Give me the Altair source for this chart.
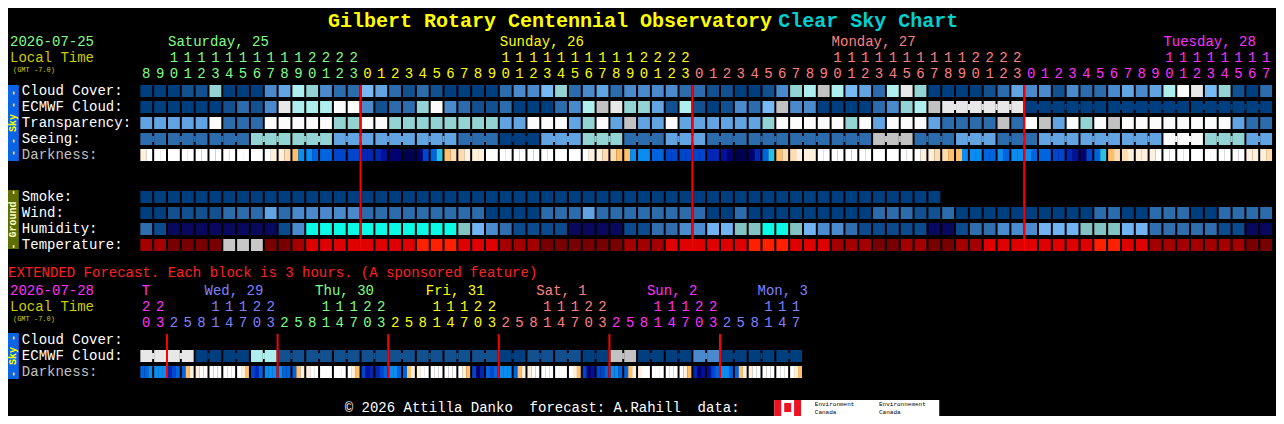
import altair as alt
import pandas as pd

# ------------------------------------------------------------------ texts
TITLE_MAIN = "Gilbert Rotary Centennial Observatory"
TITLE_SUB = "Clear Sky Chart"
DATE_MAIN = "2026-07-25"
DATE_EXT = "2026-07-28"
LOCAL = "Local Time"
GMT = "(GMT -7.0)"
EXT_NOTE = "EXTENDED Forecast. Each block is 3 hours. (A sponsored feature)"
FOOTER = "\u00a9 2026 Attilla Danko\u00a0\u00a0forecast: A.Rahill\u00a0\u00a0data:"

day_names = ["Saturday, 25", "Sunday, 26", "Monday, 27", "Tuesday, 28"]
day_colors = ["green", "yellow", "salmon", "magenta"]
day_hours = [list(range(8, 24)), list(range(24)), list(range(24)), list(range(18))]

ext_day_names = ["T", "Wed, 29", "Thu, 30", "Fri, 31", "Sat, 1", "Sun, 2", "Mon, 3"]
ext_day_colors = ["magenta", "violet", "green", "yellow", "salmon", "magenta", "violet"]
ext_day_hours = [
    [20, 23],
    [2, 5, 8, 11, 14, 17, 20, 23],
    [2, 5, 8, 11, 14, 17, 20, 23],
    [2, 5, 8, 11, 14, 17, 20, 23],
    [2, 5, 8, 11, 14, 17, 20, 23],
    [2, 5, 8, 11, 14, 17, 20, 23],
    [2, 5, 8, 11, 14, 17],
]

sky_labels = ["Cloud Cover:", "ECMWF Cloud:", "Transparency:", "Seeing:", "Darkness:"]
ground_labels = ["Smoke:", "Wind:", "Humidity:", "Temperature:"]
ext_labels = ["Cloud Cover:", "ECMWF Cloud:", "Darkness:"]

# ------------------------------------------------------------------ hourly levels (82 hours)
cloud_cover = [0, 0, 0, 1, 1, 6, 0, 0, 0, 3, 4, 7, 6, 3, 2, 2,
               5, 4, 2, 1, 2, 1, 0, 0, 0, 0, 2, 3, 3, 5, 6, 2, 3, 4, 2, 3, 3, 3, 3, 2,
               2, 1, 1, 0, 0, 1, 3, 6, 7, 8, 7, 5, 4, 2, 7, 9, 6, 0, 0, 0, 0, 1, 2, 4,
               3, 3, 1, 3, 2, 2, 3, 4, 3, 4, 7, 10, 9, 5, 6, 1, 0, 2]
ecmwf_cloud = [0, 0, 0, 0, 0, 0, 1, 2, 1, 3, 9, 7, 7, 7, 10, 10,
               3, 1, 2, 2, 6, 10, 3, 2, 1, 1, 2, 0, 0, 0, 2, 3, 7, 8, 9, 6, 6, 4, 1, 7,
               1, 0, 1, 3, 2, 5, 8, 3, 3, 0, 0, 0, 0, 2, 3, 6, 7, 8, 9, 9, 9, 9, 9, 9,
               0, 0, 0, 0, 0, 0, 0, 0, 0, 0, 0, 0, 0, 0, 0, 0, 0, 0]
transparency = [4, 4, 4, 4, 4, 10, 2, 2, 2, 10, 10, 10, 10, 10, 6, 6,
                10, 10, 6, 6, 6, 6, 6, 6, 6, 6, 4, 4, 10, 10, 10, 4, 6, 10, 4, 8, 4, 4, 10, 4,
                4, 4, 4, 4, 4, 6, 10, 10, 10, 10, 10, 6, 10, 4, 10, 10, 10, 4, 2, 2, 2, 2, 8, 2,
                10, 8, 4, 10, 6, 10, 8, 10, 10, 10, 10, 10, 10, 10, 10, 4, 2, 2]
seeing = [2, 2, 2, 2, 2, 2, 2, 2, 6, 6, 6, 6, 6, 6, 4, 4,
          4, 4, 4, 4, 4, 4, 4, 2, 2, 2, 0, 0, 0, 4, 4, 4, 6, 6, 6, 2, 2, 2, 4, 4,
          4, 2, 2, 2, 2, 2, 2, 2, 2, 2, 2, 2, 2, 8, 8, 8, 2, 2, 2, 4, 4, 4, 2, 2,
          2, 4, 4, 4, 4, 4, 4, 4, 4, 4, 10, 10, 10, 6, 6, 6, 4, 4]
# darkness: (first half-hour, second half-hour) level per hour
darkness = [(1, 0), (0, 0), (0, 0), (0, 0), (0, 0), (0, 0), (0, 0), (0, 0), (0, 0), (0, 1),
            (1, 2), (3, 5), (5, 6), (6, 6), (7, 7), (7, 7),
            (8, 8), (8, 9), (10, 10), (11, 11), (10, 7), (6, 4), (3, 2), (2, 1), (1, 1), (0, 0),
            (0, 0), (0, 0), (0, 0), (0, 0), (0, 0), (0, 0), (0, 1), (1, 2), (2, 3), (3, 5),
            (5, 5), (6, 6), (7, 7), (7, 7),
            (7, 7), (8, 8), (9, 10), (11, 11), (10, 8), (6, 4), (3, 2), (2, 1), (1, 1), (0, 0),
            (0, 0), (0, 0), (0, 0), (0, 0), (0, 0), (0, 0), (0, 1), (1, 2), (2, 3), (3, 5),
            (5, 5), (6, 6), (5, 6), (5, 5),
            (5, 6), (6, 6), (7, 7), (8, 9), (10, 7), (6, 4), (3, 2), (2, 1), (1, 1), (1, 0),
            (0, 0), (0, 0), (0, 0), (0, 0), (0, 0), (0, 0), (1, 1), (1, 2)]
smoke = [0] * 58
wind = [0, 0, 1, 1, 1, 1, 2, 2, 2, 4, 2, 3, 3, 3, 3, 3,
        2, 2, 2, 2, 2, 2, 2, 2, 2, 0, 0, 0, 0, 2, 2, 2, 4, 2, 2, 2, 2, 2, 2, 2,
        2, 0, 0, 2, 0, 0, 0, 0, 0, 0, 0, 0, 0, 2, 2, 2, 1, 1, 2, 0, 0, 0, 0, 0,
        0, 0, 0, 0, 0, 2, 2, 0, 0, 2, 2, 2, 0, 0, 2, 2, 2, 2]
humidity = [2, 1, 0, 0, 0, 0, 0, 0, 0, 0, 1, 3, 6, 6, 6, 6,
            6, 6, 6, 6, 6, 6, 6, 5, 4, 3, 2, 1, 1, 1, 1, 0, 0, 0, 0, 1, 1, 2, 2, 3,
            3, 4, 4, 5, 5, 6, 6, 5, 4, 3, 3, 2, 1, 1, 1, 1, 1, 0, 0, 1, 2, 2, 3, 3,
            3, 4, 4, 4, 5, 5, 5, 4, 4, 2, 2, 2, 2, 2, 1, 1, 0, 0]
temperature = [2, 2, 1, 1, 1, 1, 0, 0, 0, 1, 1, 2, 3, 3, 3, 3,
               3, 3, 3, 3, 4, 4, 4, 3, 3, 3, 2, 2, 2, 1, 1, 1, 1, 1, 1, 2, 2, 2, 3, 3,
               3, 3, 3, 3, 4, 4, 4, 3, 3, 3, 2, 2, 2, 1, 1, 2, 2, 1, 1, 2, 2, 3, 3, 3,
               3, 3, 3, 3, 3, 4, 4, 3, 3, 2, 2, 2, 2, 2, 2, 2, 1, 1]

# ------------------------------------------------------------------ extended (48 blocks of 3 h)
ext_ecmwf = [9, 9, 9, 9, 0, 0, 0, 0, 7, 7, 1, 1, 1, 1, 1, 1,
             1, 1, 1, 1, 1, 1, 1, 1, 1, 1, 0, 0, 1, 1, 1, 1,
             0, 0, 8, 8, 0, 0, 0, 0, 3, 3, 0, 0, 0, 0, 0, 0]
ext_darkness = [(6, 6, 5), (5, 5, 5), (8, 7, 6), (6, 3, 1), (1, 0, 0), (0, 0, 0), (0, 0, 0), (0, 1, 3),
                (7, 8, 6), (5, 5, 5), (5, 6, 6), (6, 3, 1), (1, 0, 0), (0, 0, 0), (0, 0, 0), (0, 1, 3),
                (7, 9, 8), (8, 7, 6), (5, 5, 6), (6, 3, 1), (1, 0, 0), (0, 0, 0), (0, 0, 0), (0, 1, 3),
                (7, 10, 8), (6, 7, 6), (5, 5, 5), (6, 3, 1), (1, 0, 0), (0, 0, 0), (0, 0, 0), (0, 1, 3),
                (7, 10, 9), (7, 7, 6), (5, 5, 6), (6, 3, 1), (1, 0, 0), (0, 0, 0), (0, 0, 0), (0, 1, 3),
                (8, 10, 9), (9, 7, 6), (5, 5, 6), (6, 3, 1), (1, 0, 0), (0, 0, 0), (0, 0, 0), (0, 1, 3)]

# ------------------------------------------------------------------ palette
PAL = {
    "s0": "#003f7f", "s1": "#13508f", "s2": "#2c6cac", "s3": "#4a89cc", "s4": "#62a3e2",
    "s5": "#77b9f5", "s6": "#94d3d3", "s7": "#aeeeee", "s8": "#c2c2c2", "s9": "#e8e8e8",
    "s10": "#fbfbfb",
    "h0": "#08085e", "h1": "#0b4a8c", "h2": "#2f6dae", "h3": "#4a8bd0", "h4": "#70b2f2",
    "h5": "#82c2c2", "h6": "#0afae6",
    "t0": "#c8c8c8", "t1": "#780000", "t2": "#a50000", "t3": "#df0000", "t4": "#ff2000",
    "d0": "#ffffff", "d1": "#fff0dc", "d2": "#ffdcb0", "d3": "#ffbe6a", "d4": "#28c0e8",
    "d5": "#0a8cf0", "d6": "#0064e0", "d7": "#0046cc", "d8": "#0028b4", "d9": "#00129a",
    "d10": "#000070", "d11": "#00004e",
    "white": "#ffffff", "grey": "#c0c0c0", "green": "#80ff80", "yellow": "#ffff00",
    "salmon": "#ff8080", "magenta": "#ff30ff", "violet": "#8080ff", "olive": "#cccc00",
    "red": "#ff2020", "cyan": "#00d0d0", "black": "#000000", "skybar": "#0a64e6",
    "groundbar": "#5f6e00", "line": "#ff0000", "flag": "#ee1122", "paleyellow": "#ffffc0",
}

# ------------------------------------------------------------------ layout helpers
W, H = 1268, 408


def cx(px):
    """reference x pixel -> column units (14 px per hour column, first at 134)"""
    return (px - 134) / 14.0


def oy(py):
    """reference y pixel -> output y pixel (empty bands tightened to fit 408 px)"""
    if py < 170:
        return py
    if py < 262:
        return py - 6
    if py < 395:
        return py - 11
    return py - 16


def ry(py):
    """reference y pixel -> row units (16 px per row, first row top at 0)"""
    return (oy(py) - 77) / 16.0


BW = 12 / 14.0
BH = 12 / 16.0
SKY_TOPS = [ry(77 + 16 * i) for i in range(5)]
GROUND_TOPS = [ry(189 + 16 * i) for i in range(4)]
EXT_TOPS = [ry(337 + 16 * i) for i in range(3)]

rects = []


def add_rect(x, x2, y, y2, k):
    rects.append(dict(x=x, x2=x2, y=y, y2=y2, k=k))


for row, vals in [(0, cloud_cover), (1, ecmwf_cloud), (2, transparency), (3, seeing)]:
    top = SKY_TOPS[row]
    for c, v in enumerate(vals):
        add_rect(c, c + BW, top, top + BH, f"s{v}")
# seeing connectors (3-hour groups)
top = SKY_TOPS[3]
for c in range(len(seeing) - 1):
    if (c + 1) // 3 == (c + 2) // 3:
        add_rect(c + BW - 0.01, c + 1.01, top + 3 / 16, top + 9 / 16, f"s{seeing[c]}")
# ECMWF connectors (6-hour groups at the end)
top = SKY_TOPS[1]
for c in range(58, len(ecmwf_cloud) - 1):
    if (c - 58) // 6 == (c + 1 - 58) // 6:
        add_rect(c + BW - 0.01, c + 1.01, top + 3 / 16, top + 9 / 16, f"s{ecmwf_cloud[c]}")
top = SKY_TOPS[4]
for c, (a, b) in enumerate(darkness):
    add_rect(c, c + BW / 2 + 0.01, top, top + BH, f"d{a}")
    add_rect(c + BW / 2, c + BW, top, top + BH, f"d{b}")
for row, (vals, p) in enumerate([(smoke, "s"), (wind, "s"), (humidity, "h"), (temperature, "t")]):
    top = GROUND_TOPS[row]
    for c, v in enumerate(vals):
        add_rect(c, c + BW, top, top + BH, f"{p}{v}")

# extended
ye = EXT_TOPS[1]
for e, v in enumerate(ext_ecmwf):
    add_rect(e, e + BW, ye, ye + BH, f"s{v}")
    if e % 2 == 0:
        add_rect(e + BW - 0.01, e + 1.01, ye + 3 / 16, ye + 9 / 16, f"s{v}")
yd = EXT_TOPS[2]
for e, parts in enumerate(ext_darkness):
    for i, v in enumerate(parts):
        add_rect(e + i * BW / 3, e + (i + 1) * BW / 3 + (0.01 if i < 2 else 0), yd, yd + BH, f"d{v}")

# side bars
add_rect(cx(0), cx(11), ry(77), ry(153), "skybar")
add_rect(cx(0), cx(11), ry(188), ry(247), "groundbar")
add_rect(cx(0), cx(11), ry(336), ry(382), "skybar")

# footer logos
add_rect(cx(776), cx(803), ry(408), ry(424), "white")
add_rect(cx(776), cx(783), ry(408), ry(424), "flag")
add_rect(cx(796), cx(803), ry(408), ry(424), "flag")
add_rect(cx(786), cx(793), ry(411), ry(420), "flag")
add_rect(cx(803), cx(943), ry(408), ry(424), "white")

rect_df = pd.DataFrame(rects)

# red midnight lines
lines = []
for c in [16, 40, 64]:
    lines.append(dict(x=c - 1 / 14, y=ry(77), y2=ry(249), k="line"))
for e in [2, 10, 18, 26, 34, 42]:
    lines.append(dict(x=e - 1 / 14, y=ry(337), y2=ry(381), k="line"))
line_df = pd.DataFrame(lines)

# ------------------------------------------------------------------ texts
t_left = []   # size 14, left aligned
t_mid = []    # size 14, centered (hour digits)
t_small = []  # size 7
t_tiny = []   # size 6
t_rot = []    # rotated side bar text

t_left.append(dict(x=cx(2), y=ry(33.5), text=DATE_MAIN, k="green"))
t_left.append(dict(x=cx(2), y=ry(49.5), text=LOCAL, k="olive"))
t_small.append(dict(x=cx(5), y=ry(61.8), text=GMT, k="olive"))

col = 0
for name, ck, hours in zip(day_names, day_colors, day_hours):
    first10 = col + next(i for i, h in enumerate(hours) if h >= 10)
    t_left.append(dict(x=first10, y=ry(33.5), text=name, k=ck))
    for i, h in enumerate(hours):
        xc = col + i + BW / 2
        if h >= 10:
            t_mid.append(dict(x=xc, y=ry(49.5), text=str(h)[0], k=ck))
        t_mid.append(dict(x=xc, y=ry(65.5), text=str(h)[-1], k=ck))
    col += len(hours)

for i, lab in enumerate(sky_labels):
    t_left.append(dict(x=cx(14), y=SKY_TOPS[i] + BH / 2, text=lab,
                       k="grey" if lab.startswith("Dark") else "white"))
for i, lab in enumerate(ground_labels):
    t_left.append(dict(x=cx(14), y=GROUND_TOPS[i] + BH / 2, text=lab, k="white"))

t_left.append(dict(x=cx(0), y=ry(276), text=EXT_NOTE, k="red"))
t_left.append(dict(x=cx(2), y=ry(294), text=DATE_EXT, k="magenta"))
t_left.append(dict(x=cx(2), y=ry(310), text=LOCAL, k="olive"))
t_small.append(dict(x=cx(5), y=ry(322.3), text=GMT, k="olive"))

col = 0
for name, ck, hours in zip(ext_day_names, ext_day_colors, ext_day_hours):
    if name == "T":
        xl = col + 0.1
    else:
        xl = col + next(i for i, h in enumerate(hours) if h >= 10) - 5 / 14
    t_left.append(dict(x=xl, y=ry(294), text=name, k=ck))
    for i, h in enumerate(hours):
        xc = col + i + BW / 2
        if h >= 10:
            t_mid.append(dict(x=xc, y=ry(310), text=str(h)[0], k=ck))
        t_mid.append(dict(x=xc, y=ry(326), text=str(h)[-1], k=ck))
    col += len(hours)

for i, lab in enumerate(ext_labels):
    t_left.append(dict(x=cx(14), y=EXT_TOPS[i] + BH / 2, text=lab,
                       k="grey" if lab.startswith("Dark") else "white"))

t_left.append(dict(x=cx(341), y=ry(415.8), text=FOOTER, k="white"))
t_tiny.append(dict(x=cx(817), y=ry(412.3), text="Environment", k="black"))
t_tiny.append(dict(x=cx(817), y=ry(419.8), text="Canada", k="black"))
t_tiny.append(dict(x=cx(882), y=ry(412.3), text="Environnement", k="black"))
t_tiny.append(dict(x=cx(882), y=ry(419.8), text="Canada", k="black"))

t_rot.append(dict(x=cx(5.5), y=ry(115), text="- - Sky - -", k="yellow"))
t_rot.append(dict(x=cx(5.5), y=ry(217.5), text="- Ground -", k="paleyellow"))
t_rot.append(dict(x=cx(5.5), y=ry(359), text="- Sky -", k="yellow"))

title_df = pd.DataFrame([
    dict(x=cx(324), y=ry(12.5), text=TITLE_MAIN, k="yellow"),
    dict(x=cx(780), y=ry(12.5), text=TITLE_SUB, k="cyan"),
])

# ------------------------------------------------------------------ chart
xs = alt.Scale(domain=[cx(0), cx(1284)], nice=False, zero=False)
ys = alt.Scale(domain=[(0 - 77) / 16.0, (H - 77) / 16.0], nice=False, zero=False, reverse=True)
cs = alt.Scale(domain=list(PAL.keys()), range=list(PAL.values()))

X = alt.X("x:Q", scale=xs, axis=None)
Y = alt.Y("y:Q", scale=ys, axis=None)
C = alt.Color("k:N", scale=cs, legend=None)

rect_layer = alt.Chart(rect_df).mark_rect().encode(x=X, x2="x2:Q", y=Y, y2="y2:Q", color=C)
line_layer = alt.Chart(line_df).mark_rule(strokeWidth=2).encode(x=X, y=Y, y2="y2:Q", color=C)

FONT = "Liberation Mono"


def text_layer(rows, size, align="left", weight="normal", angle=0):
    return alt.Chart(pd.DataFrame(rows)).mark_text(
        font=FONT, fontSize=size, align=align, baseline="middle", fontWeight=weight, angle=angle
    ).encode(x=X, y=Y, text="text:N", color=C)


chart = alt.layer(
    rect_layer,
    line_layer,
    text_layer(t_left, 14),
    text_layer(t_mid, 14, align="center"),
    text_layer(t_small, 7),
    text_layer(t_tiny, 6),
    text_layer(t_rot, 10, align="center", weight="bold", angle=270),
    alt.Chart(title_df).mark_text(
        font=FONT, fontSize=20, align="left", baseline="middle", fontWeight="bold"
    ).encode(x=X, y=Y, text="text:N", color=C),
).properties(
    width=W, height=H, padding=0, background="#000000",
    autosize=alt.AutoSizeParams(type="none"),
).configure_view(strokeWidth=0, fill="#000000")

chart.save("out.html", embed_options={"renderer": "svg", "actions": False})
